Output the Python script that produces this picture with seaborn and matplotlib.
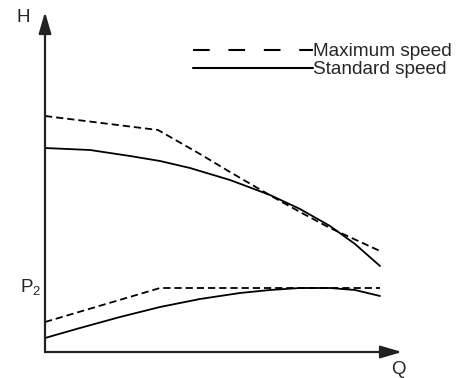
import seaborn as sns
import matplotlib.pyplot as plt
from matplotlib.lines import Line2D

# head curve (H) and power curve (P2), Q along x, arbitrary units
q_max_h = [0, 113, 155, 185, 228, 255, 285, 335]
h_max = [236, 222, 198, 180, 155, 140, 124, 101]

q_std_h = [0, 45, 85, 115, 145, 185, 225, 255, 285, 310, 335]
h_std = [204, 202, 196, 191, 184, 172, 157, 143, 126, 108, 86]

q_max_p = [0, 115, 335]
p_max = [30, 64, 64]

q_std_p = [0, 35, 75, 115, 155, 195, 225, 255, 285, 310, 335]
p_std = [14, 24, 35, 45, 53, 59, 62, 64, 64, 62, 56]

labels = ["Maximum speed", "Standard speed"]

sns.set_style("white")
plt.rcParams["font.family"] = ["Liberation Sans", "DejaVu Sans"]

W, H = 458, 378
fig = plt.figure(figsize=(W / 100, H / 100), dpi=100)
# axes area: origin at (45, 352) px, arrow tips at x=402 and y=12
ax = fig.add_axes([45 / W, (H - 352) / H, (402 - 45) / W, (352 - 12) / H])

lw = 1.3
dash = (4, 2.2)
sns.lineplot(x=q_max_h, y=h_max, ax=ax, color="black", lw=lw, sort=False)
sns.lineplot(x=q_std_h, y=h_std, ax=ax, color="black", lw=lw, sort=False)
sns.lineplot(x=q_max_p, y=p_max, ax=ax, color="black", lw=lw, sort=False)
sns.lineplot(x=q_std_p, y=p_std, ax=ax, color="black", lw=lw, sort=False)
ax.lines[0].set_dashes(dash)
ax.lines[2].set_dashes(dash)

ax.set_xlim(0, 357)
ax.set_ylim(0, 340)
ax.set_xticks([])
ax.set_yticks([])
for s in ax.spines.values():
    s.set_visible(False)

arrow = dict(arrowstyle="-|>,head_length=1.3,head_width=0.38", lw=1.6,
             color="#222222", shrinkA=0, shrinkB=0)
ax.annotate("", xy=(0, 1), xytext=(0, 0), xycoords="axes fraction", arrowprops=arrow)
ax.annotate("", xy=(1, 0), xytext=(0, 0), xycoords="axes fraction", arrowprops=arrow)

fig.text(23 / W, 1 - 18 / H, "H", fontsize=13.5, ha="center", va="center")
fig.text(20 / W, 1 - 288 / H, r"P$_{\mathregular{2}}$", fontsize=13.5, ha="left", va="center")
fig.text(398 / W, 1 - 370 / H, "Q", fontsize=13.5, ha="center", va="center")

handles = [
    Line2D([], [], color="black", lw=1.5, dashes=(8, 9)),
    Line2D([], [], color="black", lw=1.5),
]
ax.legend(handles, labels, loc="upper left", bbox_to_anchor=(193 / W, 1 - 43 / H),
          bbox_transform=fig.transFigure, frameon=False, fontsize=13.7,
          handlelength=6.3, handletextpad=0, borderpad=0, borderaxespad=0,
          labelspacing=0.04)

fig.savefig("out.png", dpi=100)
